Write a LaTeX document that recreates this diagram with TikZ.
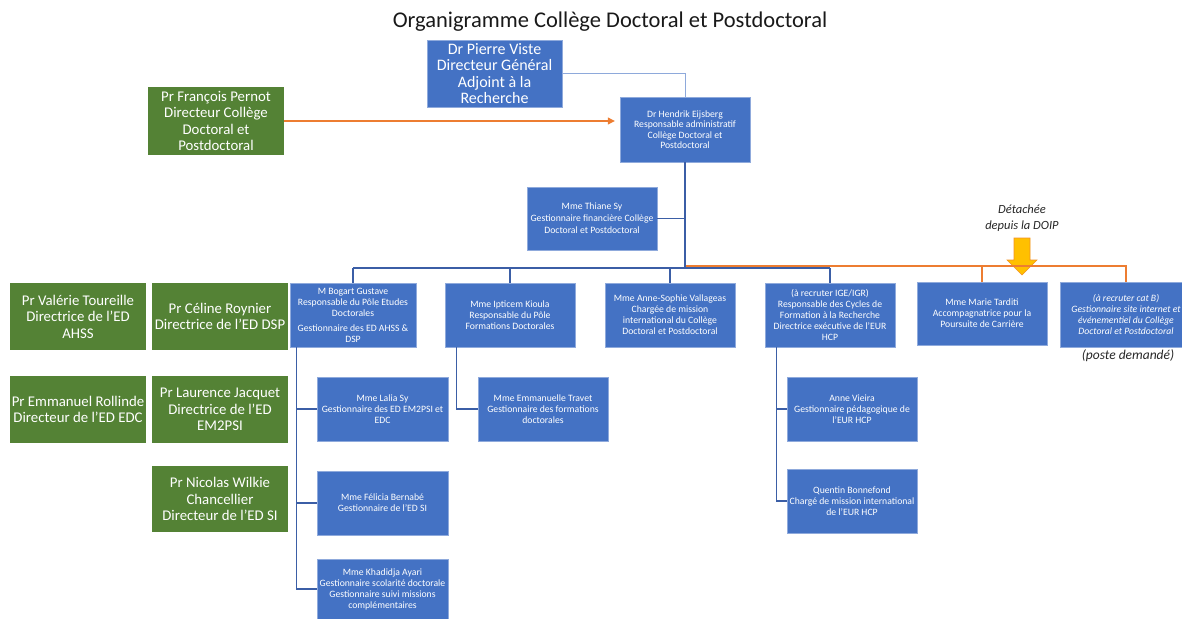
\documentclass[tikz,border=0pt]{standalone}
\usepackage{fontspec}
\setmainfont{Carlito}
\usepackage{xcolor}
\definecolor{ofblue}{HTML}{4472C4}
\definecolor{ofgreen}{HTML}{548235}
\definecolor{oforange}{HTML}{ED7D31}
\definecolor{ofyellow}{HTML}{FFC000}
\definecolor{linkblue}{HTML}{3B5EA6}
\definecolor{lightlink}{HTML}{8EA9DB}
\usetikzlibrary{arrows.meta,positioning,calc}
\tikzset{
  bleu/.style = {fill = ofblue, draw = ofblue!60!white, line width = .4pt, text = white, align = center,
                 font = \fontsize{9.7}{11}\selectfont, inner sep = 1pt,
                 minimum width = 130, minimum height = 64},
  vert/.style = {fill = ofgreen, text = white, align = center, font = \fontsize{14.8}{16.5}\selectfont,
                 inner sep = 1pt, minimum width = 136, minimum height = 67},
  note/.style = {align = center, font = \fontsize{12.5}{16}\selectfont\itshape, text = black!85},
  lien/.style = {draw = linkblue, line width = 1.2},
  lienor/.style = {draw = oforange, line width = 1.2}
}
\begin{document}
\begin{tikzpicture}[x = 1pt, y = -1pt]
\useasboundingbox (0,0) rectangle (1182,618);
\node[font = \fontsize{22.5}{26}\selectfont, text = black!90] (titre) at (610,22) {Organigramme Collège Doctoral et Postdoctoral};
% direction
\node[bleu, font = \fontsize{16}{16.5}\selectfont, minimum width = 135, minimum height = 67] (viste) at (494.5,73.5) {Dr Pierre Viste\\Directeur Général\\Adjoint à la\\Recherche};
\node[vert, minimum height = 68] (pernot) at (216,121) {Pr François Pernot\\Directeur Collège\\Doctoral et\\Postdoctoral};
\node[bleu, font = \fontsize{9.7}{10.5}\selectfont, minimum height = 65] (eijs) at (685,129.5) {Dr Hendrik Eijsberg\\Responsable administratif\\Collège Doctoral et\\Postdoctoral};
\node[bleu, font = \fontsize{9.7}{12}\selectfont, minimum height = 63] (thiane) at (592,218.5) {Mme Thiane Sy\\Gestionnaire financière Collège\\Doctoral et Postdoctoral};
% directeurs des ED
\node[vert] (toureille) at (78,316.5) {Pr Valérie Toureille\\Directrice de l'ED\\AHSS};
\node[vert] (roynier) at (220,316.5) {Pr Céline Roynier\\Directrice de l'ED DSP};
\node[vert] (rollinde) at (78,409.5) {Pr Emmanuel Rollinde\\Directeur de l'ED EDC};
\node[vert] (jacquet) at (220,409.5) {Pr Laurence Jacquet\\Directrice de l'ED\\EM2PSI};
\node[vert, minimum height = 66] (wilkie) at (220,499) {Pr Nicolas Wilkie\\Chancellier\\Directeur de l'ED SI};
% poles
\node[bleu, minimum width = 126] (bogart) at (353,315) {M Bogart Gustave\\Responsable du Pôle Etudes\\Doctorales\\[4pt]Gestionnaire des ED AHSS \&\\DSP};
\node[bleu] (kioula) at (510,315) {Mme Ipticem Kioula\\Responsable du Pôle\\Formations Doctorales};
\node[bleu] (vall) at (670,315) {Mme Anne-Sophie Vallageas\\Chargée de mission\\international du Collège\\Doctoral et Postdoctoral};
\node[bleu] (eur) at (830,315) {(à recruter IGE/IGR)\\Responsable des Cycles de\\Formation à la Recherche\\Directrice exécutive de l'EUR\\HCP};
\node[bleu, minimum height = 63] (tard) at (982,313.5) {Mme Marie Tarditi\\Accompagnatrice pour la\\Poursuite de Carrière};
\node[bleu, font = \fontsize{9.7}{11}\selectfont\itshape, minimum width = 132, minimum height = 65] (catb) at (1126,314.5) {(à recruter cat B)\\Gestionnaire site internet et\\événementiel du Collège\\Doctoral et Postdoctoral};
% gestionnaires
\node[bleu, minimum width = 131] (lalia) at (382.5,409) {Mme Lalia Sy\\Gestionnaire des ED EM2PSI et\\EDC};
\node[bleu, minimum width = 131] (bernabe) at (382.5,503) {Mme Félicia Bernabé\\Gestionnaire de l'ED SI};
\node[bleu, minimum width = 131, minimum height = 60] (ayari) at (382.5,589) {Mme Khadidja Ayari\\Gestionnaire scolarité doctorale\\Gestionnaire suivi missions\\complémentaires};
\node[bleu] (travet) at (543,409) {Mme Emmanuelle Travet\\Gestionnaire des formations\\doctorales};
\node[bleu] (vieira) at (852,409) {Anne Vieira\\Gestionnaire pédagogique de\\l'EUR HCP};
\node[bleu] (bonnef) at (852,501) {Quentin Bonnefond\\Chargé de mission international\\de l'EUR HCP};
% notes
\node[note] (detach) at (1022,218) {Détachée\\depuis la DOIP};
\node[note, font = \fontsize{13.5}{16}\selectfont\itshape] (poste) at (1128,356) {(poste demandé)};
\draw[draw = oforange!70!ofyellow, fill = ofyellow, line width = .6] (1014,238) -- (1030,238) -- (1030,260) -- (1037,260) -- (1022,275) -- (1007,260) -- (1014,260) -- cycle;
% liens
\coordinate (bus) at (685,268);
\coordinate (busor) at (685,266);
\draw[draw = lightlink, line width = .9] (viste.east) -| (eijs.north);
\draw[lienor, -{Triangle[length = 7pt, width = 7pt]}, shorten > = 5pt] (pernot.east) -- (pernot.east -| eijs.west);
\draw[lienor] (busor) -- (busor -| catb.north) -- (catb.north);
\draw[lienor] (busor -| tard.north) -- (tard.north);
\draw[lien] (eijs.south) -- (bus);
\draw[lien] (thiane.east) -- (thiane.east -| eijs.south);
\draw[lien] (bus -| bogart.north) -- (bus -| eur.north);
\foreach \p in {bogart, kioula, vall, eur}
  \draw[lien] (bus -| \p.north) -- (\p.north);
\coordinate (tb) at ([xshift = 7]bogart.south west);
\draw[lien] (tb) |- (ayari.west);
\draw[lien] (lalia.west) -- (lalia.west -| tb);
\draw[lien] (bernabe.west) -- (bernabe.west -| tb);
\coordinate (tk) at ([xshift = 12]kioula.south west);
\draw[lien] (tk) |- (travet.west);
\coordinate (te) at ([xshift = 12]eur.south west);
\draw[lien] (te) |- (bonnef.west);
\draw[lien] (vieira.west) -- (vieira.west -| te);
\end{tikzpicture}
\end{document}
